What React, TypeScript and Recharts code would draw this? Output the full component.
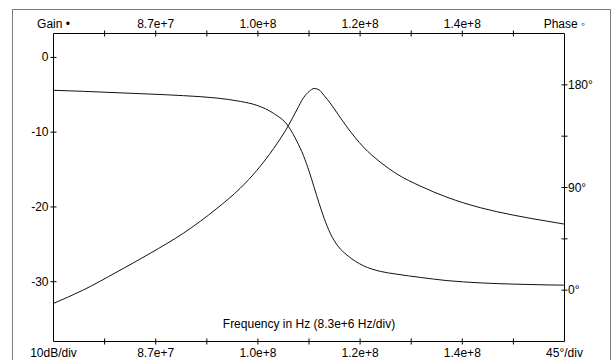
import React from 'react';
import { LineChart, Line, XAxis, YAxis, Label } from 'recharts';

// frequency sweep (Hz) with gain (dB) and phase (deg)
const freqHz = [
  70.4e6, 75.27e6, 80.7e6, 86.11e6, 91.52e6, 96.94e6, 100.73e6, 103.44e6, 106.14e6, 108.57e6,
  109.93e6, 111.0e6, 111.93e6, 112.74e6, 113.55e6, 114.36e6, 115.34e6, 116.69e6, 118.06e6,
  120.75e6, 123.47e6, 126.18e6, 129.96e6, 134.3e6, 139.71e6, 145.12e6, 150.54e6, 153.4e6,
];
const gainDb = [
  -32.9, -31.1, -28.7, -26.2, -23.5, -20.2, -17.5, -15.1, -12.2, -9.1,
  -7.0, -5.4, -4.55, -4.15, -4.35, -5.1, -6.1, -7.7, -9.3,
  -12.0, -14.0, -15.6, -17.2, -18.7, -20.1, -21.1, -21.9, -22.3,
];
const phaseDeg = [
  175.2, 174.3, 173.1, 171.9, 170.5, 168.4, 165.5, 162.0, 155.0, 143.5,
  130.5, 118.0, 104.0, 90.0, 76.0, 63.0, 50.0, 38.0, 30.8,
  21.4, 16.5, 14.0, 11.2, 8.4, 6.4, 5.3, 4.6, 4.4,
];

const xTicks = [70.4e6, 78.7e6, 87.0e6, 95.3e6, 103.6e6, 111.9e6, 120.2e6, 128.5e6, 136.8e6, 145.1e6, 153.4e6];
const topLabels = ['Gain \u2022', '', '8.7e+7', '', '1.0e+8', '', '1.2e+8', '', '1.4e+8', '', 'Phase \u25E6'];
const bottomLabels = ['10dB/div', '', '8.7e+7', '', '1.0e+8', '', '1.2e+8', '', '1.4e+8', '', '45\u00B0/div'];
const gainTicks = [0, -10, -20, -30];
const phaseTicks = [0, 45, 90, 135, 180];
const phaseLabels: Record<number, string> = { 0: '0\u00B0', 90: '90\u00B0', 180: '180\u00B0' };

const data = freqHz.map((f, i) => ({ freq: f, gain: gainDb[i], phase: phaseDeg[i] }));

const font = '"Liberation Sans", Arial, sans-serif';
const textStyle = { fontFamily: font, fontSize: 12, fill: '#000' };

const TopTick = (props: any) => {
  const { x, y, index } = props;
  const label = topLabels[index];
  return (
    <g>
      {index > 0 && index < topLabels.length - 1 && (
        <line x1={x} x2={x} y1={y - 3} y2={y + 3} stroke="#000" />
      )}
      {label && (
        <text x={x} y={y - 5.5} textAnchor="middle" style={textStyle}>
          {label}
        </text>
      )}
    </g>
  );
};

const BottomTick = (props: any) => {
  const { x, y, index } = props;
  const label = bottomLabels[index];
  return (
    <g>
      {index > 0 && index < bottomLabels.length - 1 && (
        <line x1={x} x2={x} y1={y - 3} y2={y + 3} stroke="#000" />
      )}
      {label && (
        <text x={x} y={y + 15.5} textAnchor="middle" style={textStyle}>
          {label}
        </text>
      )}
    </g>
  );
};

const GainTick = (props: any) => {
  const { x, y, payload } = props;
  return (
    <g>
      <line x1={x - 3} x2={x + 3} y1={y} y2={y} stroke="#000" />
      <text x={x - 5} y={y + 4} textAnchor="end" style={textStyle}>
        {payload.value}
      </text>
    </g>
  );
};

const PhaseTick = (props: any) => {
  const { x, y, payload } = props;
  const label = phaseLabels[payload.value];
  return (
    <g>
      <line x1={x - 3} x2={x + 3} y1={y} y2={y} stroke="#000" />
      {label && (
        <text x={x + 3.5} y={y + 4} textAnchor="start" style={textStyle}>
          {label}
        </text>
      )}
    </g>
  );
};

export default function App() {
  return (
    <div
      style={{
        position: 'absolute',
        left: 0,
        top: 0,
        width: 612,
        height: 360,
        overflow: 'hidden',
        background: '#fff',
        fontFamily: font,
      }}
    >
      <div
        style={{
          position: 'absolute',
          left: 12,
          top: 9,
          width: 597,
          height: 400,
          border: '1px solid #7a7a7a',
        }}
      />
      <div style={{ position: 'absolute', left: 0, top: 0 }}>
        <LineChart
          width={612}
          height={360}
          data={data}
          margin={{ top: 0.5, right: 0, bottom: 0, left: 0.5 }}
        >
          <XAxis
            xAxisId="top"
            orientation="top"
            dataKey="freq"
            type="number"
            domain={[70.4e6, 153.4e6]}
            allowDataOverflow
            ticks={xTicks}
            interval={0}
            height={33}
            tickSize={0}
            tickMargin={0}
            tickLine={false}
            axisLine={{ stroke: '#000' }}
            tick={<TopTick />}
          />
          <XAxis
            xAxisId="bottom"
            dataKey="freq"
            type="number"
            domain={[70.4e6, 153.4e6]}
            allowDataOverflow
            ticks={xTicks}
            interval={0}
            height={18.5}
            tickSize={0}
            tickMargin={0}
            tickLine={false}
            axisLine={{ stroke: '#000' }}
            tick={<BottomTick />}
          >
            <Label
              value="Frequency in Hz (8.3e+6 Hz/div)"
              position="top"
              offset={13.5}
              style={textStyle}
            />
          </XAxis>
          <YAxis
            yAxisId="gain"
            orientation="left"
            type="number"
            domain={[-38, 3.2]}
            allowDataOverflow
            ticks={gainTicks}
            interval={0}
            width={53}
            tickSize={0}
            tickMargin={0}
            tickLine={false}
            axisLine={{ stroke: '#000' }}
            tick={<GainTick />}
          />
          <YAxis
            yAxisId="phase"
            orientation="right"
            type="number"
            domain={[-45, 225]}
            allowDataOverflow
            ticks={phaseTicks}
            interval={0}
            width={47.5}
            tickSize={0}
            tickMargin={0}
            tickLine={false}
            axisLine={{ stroke: '#000' }}
            tick={<PhaseTick />}
          />
          <Line
            xAxisId="bottom"
            yAxisId="gain"
            type="monotone"
            dataKey="gain"
            stroke="#111"
            strokeWidth={1}
            dot={false}
            isAnimationActive={false}
          />
          <Line
            xAxisId="bottom"
            yAxisId="phase"
            type="monotone"
            dataKey="phase"
            stroke="#111"
            strokeWidth={1}
            dot={false}
            isAnimationActive={false}
          />
        </LineChart>
      </div>
    </div>
  );
}
